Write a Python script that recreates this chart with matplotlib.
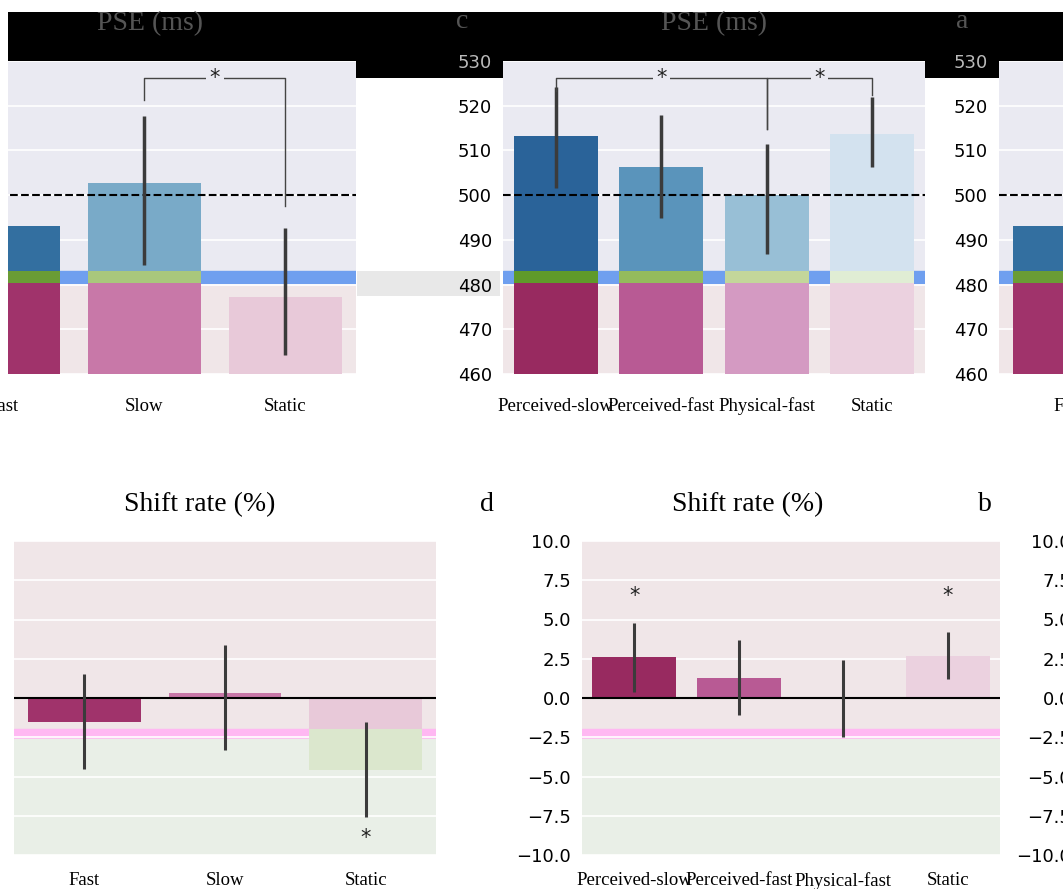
import numpy as np
import matplotlib.pyplot as plt
from matplotlib.patches import Rectangle

# ---------------------------------------------------------------
# data
# ---------------------------------------------------------------
cond_a = ["Fast", "Slow", "Static"]
pse_a = [493.1, 502.7, 477.2]
pse_a_lo = [482.0, 484.4, 464.2]
pse_a_hi = [504.0, 517.7, 492.6]

cond_c = ["Perceived-slow", "Perceived-fast", "Physical-fast", "Static"]
pse_c = [513.2, 506.3, 500.0, 513.7]
pse_c_lo = [501.6, 494.9, 486.8, 506.3]
pse_c_hi = [524.2, 517.9, 511.4, 521.9]

shift_b = [-1.5, 0.3, -4.6]
shift_b_lo = [-4.5, -3.3, -7.6]
shift_b_hi = [1.5, 3.4, -1.5]

shift_d = [2.6, 1.3, -0.05, 2.7]
shift_d_lo = [0.4, -1.1, -2.5, 1.2]
shift_d_hi = [4.8, 3.7, 2.4, 4.2]

# significance: (left idx, right idx, bracket height, left leg, right leg)
sig_a = [(1, 2, 526.2, 521.3, 497.6)]
sig_c = [(0, 2, 526.2, 523.3, 514.8), (2, 3, 526.2, 514.8, 522.5)]
star_b = [(2, -8.9)]
star_d = [(0, 6.5), (3, 6.5)]

blues_a = ["#336fa0", "#79aac8", "#c6dbef"]
blues_c = ["#2a6399", "#5a94bb", "#98bfd6", "#d3e2ef"]
pinks_a = ["#a0336b", "#c878a8", "#e8c9d9"]
pinks_c = ["#982a60", "#b85a94", "#d49ac2", "#ebd1df"]
greens_a = ["#6a9c35", "#a9c77c", "#c3d69a"]
greens_c = ["#5f9a2a", "#94bb5c", "#c3d69a", "#e0edd4"]

W, H = 1063, 889
fig = plt.figure(figsize=(W / 100, H / 100), dpi=100)
SERIF = ["Liberation Serif", "DejaVu Serif"]


def box(x0, x1, ytop, ybot):
    return [x0 / W, 1 - ybot / H, (x1 - x0) / W, (ybot - ytop) / H]


def style(ax, bg, xpad, show_y):
    ax.set_facecolor(bg)
    ax.set_axisbelow(True)
    ax.grid(axis="y", color="white", linewidth=1.2)
    for s in ax.spines.values():
        s.set_visible(False)
    ax.tick_params(axis="y", length=0, pad=8, labelsize=13, labelleft=show_y)
    ax.tick_params(axis="x", length=0, pad=xpad)


def pse_panel(pos, cond, vals, lo, hi, blues, pinks, greens, sigs, show_y=True):
    ax = fig.add_axes(pos)
    x = np.arange(len(cond))
    ax.set_ylim(460, 530)
    ax.set_xlim(-0.5, len(cond) - 0.5)
    ax.set_yticks(np.arange(460, 531, 10))
    style(ax, "#eaeaf2", 17, show_y)
    # lower band of the panel
    ax.axhspan(460, 480.3, color="#f0e6e8", zorder=0.3)
    ax.axhspan(480.3, 483, color="#6f9fef", zorder=0.3)
    ax.bar(x, np.array(vals) - 460, bottom=460, width=0.8, color=blues, zorder=2)
    low = np.minimum(vals, 480.3)
    ax.bar(x, low - 460, bottom=460, width=0.8, color=pinks, zorder=2.1)
    strip_top = np.minimum(vals, 483)
    ax.bar(x, np.clip(strip_top - 480.3, 0, None), bottom=480.3, width=0.8,
           color=greens, zorder=2.1)
    ax.vlines(x, lo, hi, color="#3b3b3b", linewidth=2.5, zorder=3)
    ax.axhline(500, color="black", linestyle="--", linewidth=1.5, zorder=2.5)
    for i, j, h, li, lj in sigs:
        ax.plot([x[i], x[i], x[j], x[j]], [li, h, h, lj], color="#444444",
                linewidth=1.0, zorder=3)
        ax.text((x[i] + x[j]) / 2, h, "*", ha="center", va="center",
                fontsize=15, color="#222222", zorder=4,
                bbox=dict(facecolor="#eaeaf2", edgecolor="none", pad=2.5))
    ax.set_xticks(x)
    ax.set_xticklabels(cond, family=SERIF, fontsize=13.5)
    for lab in ax.get_yticklabels():
        if lab.get_text() == "530":
            lab.set_color("#bbbbbb")
    return ax


def shift_panel(pos, cond, vals, lo, hi, pinks, stars, show_y=True):
    ax = fig.add_axes(pos)
    x = np.arange(len(cond))
    ax.set_ylim(-10, 10)
    ax.set_xlim(-0.5, len(cond) - 0.5)
    ax.set_yticks(np.arange(-10, 10.1, 2.5))
    style(ax, "#f0e6e8", 12, show_y)
    ax.axhspan(-2.6, -2.0, color="#ffb8f2", zorder=0.3)
    ax.axhspan(-10, -2.6, color="#e9efe7", zorder=0.3)
    ax.bar(x, vals, width=0.8, color=pinks, zorder=2)
    below = np.minimum(vals, -2.0)
    ax.bar(x, np.minimum(below + 2.0, 0), bottom=-2.0, width=0.8,
           color="#dbe7cd", zorder=2.1)
    ax.vlines(x, lo, hi, color="#3b3b3b", linewidth=2.2, zorder=3)
    ax.axhline(0, color="black", linewidth=1.5, zorder=2.5)
    for i, h in stars:
        ax.text(x[i], h, "*", ha="center", va="center", fontsize=15,
                color="#222222", zorder=4)
    ax.set_xticks(x)
    ax.set_xticklabels(cond, family=SERIF, fontsize=13.5)
    return ax


# top row: PSE
pse_panel(box(-67, 356, 61, 374), cond_a, pse_a, pse_a_lo, pse_a_hi,
          blues_a, pinks_a, greens_a, sig_a, show_y=False)
pse_panel(box(503, 925, 61, 374), cond_c, pse_c, pse_c_lo, pse_c_hi,
          blues_c, pinks_c, greens_c, sig_c)
pse_panel(box(999, 1422, 61, 374), cond_a, pse_a, pse_a_lo, pse_a_hi,
          blues_a, pinks_a, greens_a, sig_a)

# bottom row: shift rate
shift_panel(box(14, 436, 541, 855), cond_a, shift_b, shift_b_lo, shift_b_hi,
            pinks_a, star_b, show_y=False)
shift_panel(box(582, 1000, 541, 855), cond_c, shift_d, shift_d_lo, shift_d_hi,
            pinks_c, star_d)
shift_panel(box(1082, 1500, 541, 855), cond_a, shift_b, shift_b_lo, shift_b_hi,
            pinks_a, star_b)

# dark header band behind the PSE titles (drawn under the axes)
for x0, x1, y0, y1 in [(8, W, 12, 61), (355, 503, 61, 78), (925, 1003, 61, 78)]:
    fig.add_artist(Rectangle((x0 / W, 1 - y1 / H), (x1 - x0) / W, (y1 - y0) / H,
                             transform=fig.transFigure, facecolor="black",
                             edgecolor="none", zorder=-1))
fig.add_artist(Rectangle((357 / W, 1 - 296 / H), 143 / W, 25 / H,
                         transform=fig.transFigure, facecolor="#e8e8e8",
                         edgecolor="none", zorder=-1))
# white margin at the left edge of the top row
fig.add_artist(Rectangle((0, 1 - 400 / H), 8 / W, 400 / H,
                         transform=fig.transFigure, facecolor="white",
                         edgecolor="none", zorder=5))

# titles and panel letters
for xc, txt in [(150, "PSE (ms)"), (714, "PSE (ms)")]:
    fig.text(xc / W, 1 - 24 / H, txt, ha="center", va="center", family=SERIF,
             fontsize=20, color="#555555", zorder=6)
for xc, txt in [(462, "c"), (962, "a")]:
    fig.text(xc / W, 1 - 22 / H, txt, ha="center", va="center", family=SERIF,
             fontsize=20, color="#555555", zorder=6)
for xc, txt in [(200, "Shift rate (%)"), (748, "Shift rate (%)")]:
    fig.text(xc / W, 1 - 505 / H, txt, ha="center", va="center", family=SERIF,
             fontsize=20)
for xc, txt in [(487, "d"), (985, "b")]:
    fig.text(xc / W, 1 - 505 / H, txt, ha="center", va="center", family=SERIF,
             fontsize=20)

fig.savefig("out.png", dpi=100)
